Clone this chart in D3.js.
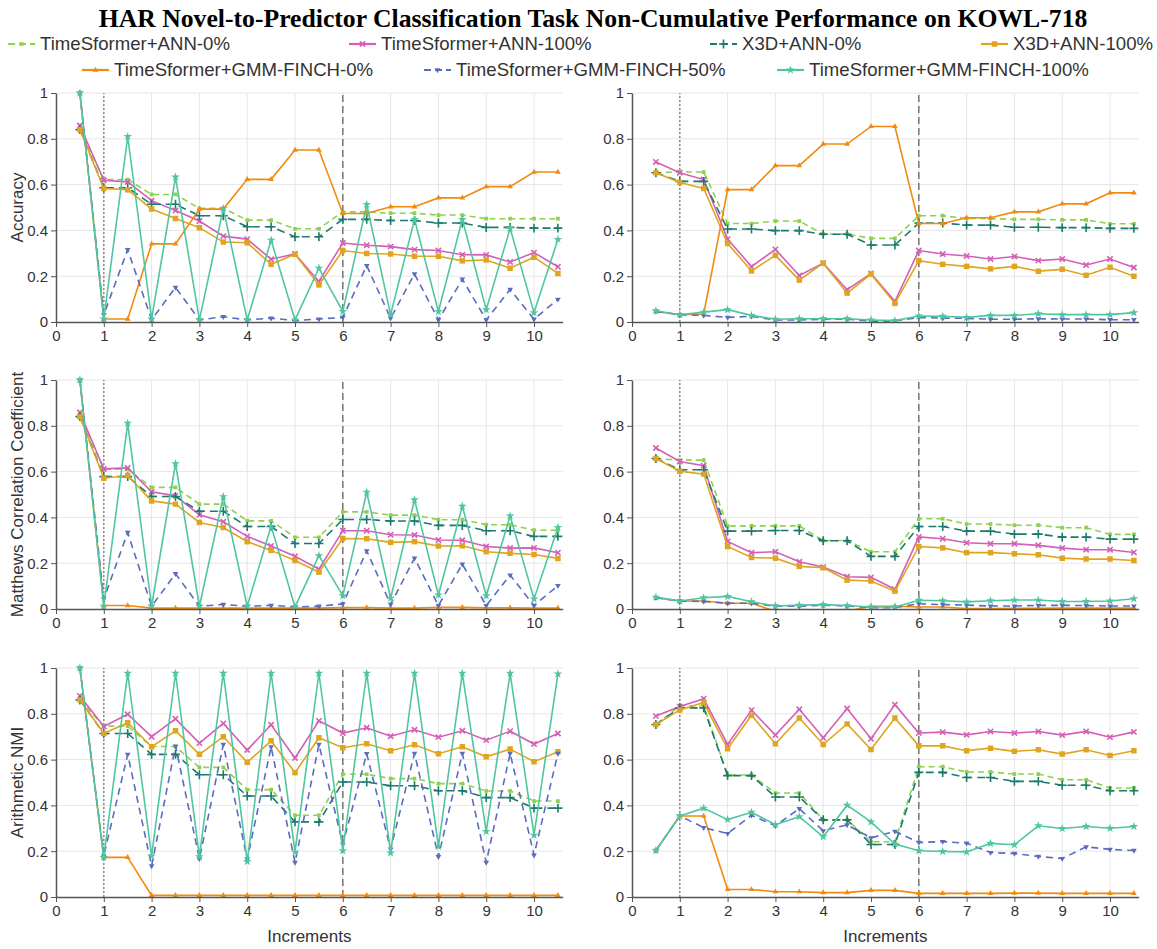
<!DOCTYPE html>
<html><head><meta charset="utf-8">
<script src="https://cdn.jsdelivr.net/npm/d3@7"></script>
<style>
body{margin:0;background:#fff;}
svg text{font-family:"Liberation Sans",Arial,sans-serif;}
</style>
</head><body>
<svg id="chart" width="1157" height="949"></svg>
<script>
// ---------------- DATA ----------------
const increments = [0.5,1,1.5,2,2.5,3,3.5,4,4.5,5,5.5,6,6.5,7,7.5,8,8.5,9,9.5,10,10.5];
const xTickValues = [0,1,2,3,4,5,6,7,8,9,10];
const yTickValues = [0,0.2,0.4,0.6,0.8,1];
const seriesNames = ["TimeSformer+ANN-0%","TimeSformer+ANN-100%","X3D+ANN-0%","X3D+ANN-100%",
  "TimeSformer+GMM-FINCH-0%","TimeSformer+GMM-FINCH-50%","TimeSformer+GMM-FINCH-100%"];
const metricNames = ["Accuracy","Matthews Correlation Coefficient","Arithmetic NMI"];
const markerLines = [1, 6]; // dotted at 1, dashed at 6

// Accuracy, left column
const accL_tsAnn0   = [0.845,0.622,0.622,0.557,0.557,0.496,0.496,0.445,0.445,0.407,0.407,0.481,0.481,0.475,0.475,0.467,0.467,0.451,0.451,0.451,0.451];
const accL_tsAnn100 = [0.858,0.619,0.612,0.530,0.487,0.441,0.375,0.362,0.274,0.297,0.177,0.345,0.335,0.329,0.316,0.312,0.294,0.293,0.262,0.303,0.241];
const accL_x3dAnn0  = [0.840,0.586,0.586,0.514,0.514,0.464,0.464,0.416,0.416,0.372,0.372,0.448,0.448,0.443,0.443,0.432,0.432,0.413,0.413,0.410,0.410];
const accL_x3dAnn100= [0.840,0.583,0.578,0.493,0.452,0.412,0.349,0.346,0.252,0.296,0.162,0.312,0.299,0.297,0.287,0.287,0.267,0.271,0.235,0.283,0.212];
const accL_gmm0     = [1.000,0.013,0.013,0.341,0.341,0.493,0.493,0.623,0.623,0.751,0.751,0.474,0.474,0.503,0.503,0.542,0.542,0.591,0.591,0.655,0.655];
const accL_gmm50    = [1.000,0.032,0.316,0.010,0.151,0.009,0.023,0.009,0.017,0.006,0.013,0.020,0.246,0.017,0.210,0.009,0.187,0.009,0.142,0.012,0.099];
const accL_gmm100   = [1.000,0.013,0.810,0.013,0.633,0.009,0.496,0.009,0.357,0.009,0.235,0.046,0.513,0.032,0.448,0.046,0.448,0.054,0.409,0.041,0.361];

// Accuracy, right column
const accR_tsAnn0   = [0.652,0.655,0.655,0.430,0.430,0.441,0.441,0.384,0.384,0.365,0.365,0.464,0.464,0.452,0.452,0.448,0.448,0.446,0.446,0.429,0.429];
const accR_tsAnn100 = [0.699,0.652,0.622,0.362,0.242,0.317,0.203,0.257,0.141,0.212,0.090,0.312,0.297,0.288,0.275,0.286,0.268,0.275,0.249,0.275,0.238];
const accR_x3dAnn0  = [0.652,0.614,0.614,0.406,0.406,0.399,0.399,0.383,0.383,0.336,0.336,0.432,0.432,0.423,0.423,0.414,0.414,0.412,0.412,0.409,0.409];
const accR_x3dAnn100= [0.652,0.609,0.583,0.343,0.223,0.291,0.183,0.257,0.126,0.209,0.081,0.268,0.252,0.243,0.232,0.243,0.222,0.230,0.204,0.239,0.200];
const accR_gmm0     = [0.046,0.032,0.035,0.578,0.578,0.683,0.683,0.777,0.777,0.854,0.854,0.430,0.430,0.455,0.455,0.481,0.481,0.516,0.516,0.564,0.564];
const accR_gmm50    = [0.046,0.032,0.029,0.020,0.025,0.009,0.009,0.012,0.012,0.004,0.004,0.020,0.017,0.016,0.012,0.012,0.014,0.013,0.013,0.010,0.010];
const accR_gmm100   = [0.049,0.032,0.043,0.054,0.029,0.012,0.014,0.014,0.014,0.009,0.006,0.026,0.025,0.020,0.029,0.029,0.036,0.032,0.032,0.032,0.041];

// MCC, left column
const mccL_tsAnn0   = [0.845,0.610,0.610,0.531,0.531,0.458,0.458,0.385,0.385,0.313,0.313,0.424,0.424,0.410,0.410,0.390,0.390,0.368,0.368,0.344,0.344];
const mccL_tsAnn100 = [0.858,0.612,0.616,0.512,0.494,0.411,0.381,0.317,0.275,0.230,0.174,0.342,0.342,0.324,0.323,0.301,0.300,0.273,0.266,0.267,0.246];
const mccL_x3dAnn0  = [0.840,0.578,0.578,0.491,0.491,0.427,0.427,0.360,0.360,0.286,0.286,0.391,0.391,0.384,0.384,0.365,0.365,0.342,0.342,0.317,0.317];
const mccL_x3dAnn100= [0.840,0.571,0.583,0.472,0.458,0.378,0.356,0.294,0.256,0.212,0.161,0.308,0.307,0.291,0.294,0.275,0.276,0.250,0.243,0.238,0.221];
const mccL_gmm0     = [1.000,0.015,0.015,0.004,0.004,0.004,0.004,0.004,0.004,0.004,0.004,0.006,0.006,0.004,0.004,0.007,0.007,0.005,0.005,0.004,0.004];
const mccL_gmm50    = [1.000,0.044,0.334,0.012,0.154,0.012,0.020,0.012,0.016,0.009,0.012,0.022,0.254,0.020,0.222,0.015,0.196,0.015,0.148,0.015,0.102];
const mccL_gmm100   = [1.000,0.012,0.811,0.012,0.635,0.012,0.491,0.012,0.362,0.009,0.233,0.058,0.510,0.047,0.477,0.061,0.449,0.058,0.406,0.044,0.356];

// MCC, right column
const mccR_tsAnn0   = [0.657,0.650,0.650,0.363,0.363,0.363,0.363,0.299,0.299,0.250,0.250,0.394,0.394,0.371,0.371,0.366,0.366,0.355,0.355,0.326,0.326];
const mccR_tsAnn100 = [0.703,0.644,0.626,0.295,0.246,0.250,0.206,0.183,0.141,0.138,0.086,0.315,0.307,0.289,0.285,0.285,0.278,0.266,0.259,0.259,0.247];
const mccR_x3dAnn0  = [0.657,0.608,0.608,0.340,0.340,0.343,0.343,0.298,0.298,0.230,0.230,0.360,0.360,0.340,0.340,0.327,0.327,0.314,0.314,0.305,0.305];
const mccR_x3dAnn100= [0.657,0.602,0.589,0.273,0.225,0.222,0.186,0.180,0.126,0.122,0.078,0.273,0.267,0.246,0.246,0.241,0.237,0.222,0.218,0.218,0.212];
const mccR_gmm0     = [0.049,0.035,0.035,0.025,0.025,-0.010,-0.010,-0.010,-0.010,0.012,0.012,0.009,0.009,0.002,0.002,0.003,0.003,0.004,0.004,0.004,0.004];
const mccR_gmm50    = [0.049,0.035,0.033,0.025,0.025,0.012,0.012,0.017,0.013,0.006,0.006,0.023,0.019,0.017,0.013,0.013,0.016,0.016,0.015,0.013,0.013];
const mccR_gmm100   = [0.052,0.035,0.049,0.055,0.032,0.013,0.017,0.019,0.015,0.009,0.009,0.038,0.036,0.031,0.036,0.039,0.039,0.033,0.033,0.035,0.045];

// NMI, left column
const nmiL_tsAnn0   = [0.860,0.746,0.746,0.657,0.657,0.566,0.566,0.469,0.469,0.357,0.357,0.536,0.536,0.517,0.517,0.495,0.495,0.463,0.463,0.419,0.419];
const nmiL_tsAnn100 = [0.878,0.745,0.798,0.700,0.778,0.672,0.758,0.642,0.752,0.607,0.769,0.716,0.739,0.702,0.730,0.698,0.726,0.685,0.724,0.668,0.714];
const nmiL_x3dAnn0  = [0.860,0.714,0.714,0.623,0.623,0.534,0.534,0.441,0.441,0.328,0.328,0.502,0.502,0.486,0.486,0.464,0.464,0.434,0.434,0.388,0.388];
const nmiL_x3dAnn100= [0.861,0.714,0.761,0.656,0.726,0.623,0.700,0.588,0.682,0.543,0.695,0.652,0.669,0.639,0.665,0.626,0.656,0.612,0.646,0.591,0.634];
const nmiL_gmm0     = [1.000,0.173,0.173,0.007,0.007,0.007,0.007,0.007,0.007,0.007,0.007,0.007,0.007,0.007,0.007,0.007,0.007,0.007,0.007,0.007,0.007];
const nmiL_gmm50    = [1.000,0.180,0.623,0.136,0.659,0.167,0.666,0.165,0.655,0.151,0.666,0.230,0.626,0.209,0.627,0.176,0.627,0.151,0.627,0.183,0.627];
const nmiL_gmm100   = [1.000,0.173,0.977,0.179,0.977,0.176,0.977,0.155,0.977,0.197,0.977,0.202,0.977,0.192,0.977,0.221,0.977,0.286,0.977,0.270,0.974];

// NMI, right column
const nmiR_tsAnn0   = [0.753,0.835,0.835,0.533,0.533,0.454,0.454,0.337,0.337,0.241,0.241,0.569,0.569,0.546,0.546,0.537,0.537,0.512,0.512,0.476,0.476];
const nmiR_tsAnn100 = [0.790,0.832,0.866,0.666,0.816,0.707,0.820,0.695,0.823,0.691,0.840,0.716,0.720,0.708,0.723,0.716,0.723,0.707,0.723,0.698,0.721];
const nmiR_x3dAnn0  = [0.753,0.826,0.826,0.530,0.530,0.437,0.437,0.337,0.337,0.229,0.229,0.544,0.544,0.522,0.522,0.505,0.505,0.488,0.488,0.464,0.464];
const nmiR_x3dAnn100= [0.753,0.817,0.849,0.647,0.794,0.669,0.782,0.666,0.756,0.644,0.782,0.660,0.660,0.639,0.650,0.636,0.643,0.624,0.643,0.618,0.639];
const nmiR_gmm0     = [0.203,0.354,0.354,0.033,0.033,0.023,0.023,0.019,0.019,0.029,0.029,0.016,0.016,0.016,0.016,0.017,0.017,0.016,0.016,0.016,0.016];
const nmiR_gmm50    = [0.203,0.354,0.303,0.277,0.357,0.311,0.386,0.289,0.315,0.258,0.287,0.238,0.242,0.235,0.194,0.190,0.177,0.168,0.219,0.208,0.203];
const nmiR_gmm100   = [0.203,0.354,0.388,0.338,0.370,0.316,0.351,0.263,0.401,0.328,0.231,0.202,0.199,0.197,0.234,0.228,0.311,0.299,0.308,0.300,0.308];

// ---------------- STYLE ----------------
const seriesColors = ["#8fd14f","#d35fb7","#1b7a6b","#dfa520","#f28a0f","#5b6bbf","#4fc6a0"];
const seriesDash   = ["6,4", null, "8,5", null, null, "7,5", null];
const seriesSym = [
  {type:d3.symbolSquare, size:14, fill:true},
  {type:d3.symbolTimes, size:20, fill:false},
  {type:d3.symbolPlus, size:28, fill:false},
  {type:d3.symbolSquare, size:30, fill:true},
  {type:d3.symbolTriangle, size:14, fill:true},
  {type:d3.symbolTriangle, size:14, fill:true, rot:180},
  {type:d3.symbolStar, size:24, fill:true}
];

const panels = [
  {row:0,col:0,data:[accL_tsAnn0,accL_tsAnn100,accL_x3dAnn0,accL_x3dAnn100,accL_gmm0,accL_gmm50,accL_gmm100]},
  {row:0,col:1,data:[accR_tsAnn0,accR_tsAnn100,accR_x3dAnn0,accR_x3dAnn100,accR_gmm0,accR_gmm50,accR_gmm100]},
  {row:1,col:0,data:[mccL_tsAnn0,mccL_tsAnn100,mccL_x3dAnn0,mccL_x3dAnn100,mccL_gmm0,mccL_gmm50,mccL_gmm100]},
  {row:1,col:1,data:[mccR_tsAnn0,mccR_tsAnn100,mccR_x3dAnn0,mccR_x3dAnn100,mccR_gmm0,mccR_gmm50,mccR_gmm100]},
  {row:2,col:0,data:[nmiL_tsAnn0,nmiL_tsAnn100,nmiL_x3dAnn0,nmiL_x3dAnn100,nmiL_gmm0,nmiL_gmm50,nmiL_gmm100]},
  {row:2,col:1,data:[nmiR_tsAnn0,nmiR_tsAnn100,nmiR_x3dAnn0,nmiR_x3dAnn100,nmiR_gmm0,nmiR_gmm50,nmiR_gmm100]}
];

const colX = [[56,562.7],[632,1138.7]];
const rowY = [[322,93],[609,380],[897,668]];

const svg = d3.select("#chart");
svg.append("rect").attr("width",1157).attr("height",949).attr("fill","#fff");

// Title
svg.append("text").attr("x",593).attr("y",27).attr("text-anchor","middle")
  .style("font-family","'Liberation Serif','Times New Roman',serif").style("font-weight","bold")
  .style("font-size","25.7px").attr("fill","#000")
  .text("HAR Novel-to-Predictor Classification Task Non-Cumulative Performance on KOWL-718");

// Legend
const legendPos = [[8,44],[349,44],[710,44],[981,44],[82,70],[424,70],[777,70]];
function drawSymbol(g, i, cx, cy){
  const s = seriesSym[i];
  const p = g.append("path").attr("d", d3.symbol(s.type, s.size)())
    .attr("transform", `translate(${cx},${cy})` + (s.rot?` rotate(${s.rot})`:""));
  if (s.fill) p.attr("fill", seriesColors[i]).attr("stroke","none");
  else p.attr("fill","none").attr("stroke", seriesColors[i]).attr("stroke-width",1.6);
}
seriesNames.forEach((name,i)=>{
  const [lx,ly] = legendPos[i];
  const g = svg.append("g");
  g.append("line").attr("x1",lx).attr("x2",lx+27).attr("y1",ly).attr("y2",ly)
    .attr("stroke",seriesColors[i]).attr("stroke-width",2.2)
    .attr("stroke-dasharray", seriesDash[i] ? "7,4" : null);
  drawSymbol(g,i,lx+13.5,ly);
  g.append("text").attr("x",lx+32).attr("y",ly+6).style("font-size","18.6px").attr("fill","#333").text(name);
});

// Panels
panels.forEach((pn,pi)=>{
  const x = d3.scaleLinear().domain([0,10.6]).range(colX[pn.col]);
  const y = d3.scaleLinear().domain([0,1]).range(rowY[pn.row]);
  const g = svg.append("g");
  // grid
  g.selectAll(".vg").data(xTickValues.filter(d=>d>0)).enter().append("line")
    .attr("x1",d=>x(d)).attr("x2",d=>x(d)).attr("y1",y(0)).attr("y2",y(1))
    .attr("stroke","#e6e6e6").attr("stroke-width",1);
  g.selectAll(".hg").data(yTickValues.filter(d=>d>0)).enter().append("line")
    .attr("x1",x(0)).attr("x2",x(10.6)).attr("y1",d=>y(d)).attr("y2",d=>y(d))
    .attr("stroke","#e6e6e6").attr("stroke-width",1);
  // reference lines
  g.append("line").attr("x1",x(markerLines[0])).attr("x2",x(markerLines[0])).attr("y1",y(0)).attr("y2",y(1))
    .attr("stroke","#8a8a8a").attr("stroke-width",1.5).attr("stroke-dasharray","2,2");
  g.append("line").attr("x1",x(markerLines[1])).attr("x2",x(markerLines[1])).attr("y1",y(0)).attr("y2",y(1))
    .attr("stroke","#777").attr("stroke-width",1.5).attr("stroke-dasharray","7,4");

  // clip
  const cid = "clip"+pi;
  svg.append("clipPath").attr("id",cid).append("rect")
    .attr("x",x(0)).attr("y",y(1)-6).attr("width",x(10.6)-x(0)+4).attr("height",y(0)-y(1)+6);
  const plot = g.append("g").attr("clip-path",`url(#${cid})`);

  const line = d3.line().x((d,j)=>x(increments[j])).y(d=>y(d));
  pn.data.forEach((vals,i)=>{
    plot.append("path").attr("d",line(vals)).attr("fill","none")
      .attr("stroke",seriesColors[i]).attr("stroke-width",1.6)
      .attr("stroke-dasharray",seriesDash[i]);
    vals.forEach((v,j)=>{ drawSymbol(plot,i,x(increments[j]),y(v)); });
  });

  // axes
  const ax = g.append("g").attr("transform",`translate(0,${y(0)})`)
    .call(d3.axisBottom(x).tickValues(xTickValues).tickFormat(d3.format("d")).tickSize(5).tickSizeOuter(0));
  const ay = g.append("g").attr("transform",`translate(${x(0)},0)`)
    .call(d3.axisLeft(y).tickValues(yTickValues).tickFormat(d3.format("~g")).tickSize(5).tickSizeOuter(0));
  [ax,ay].forEach(a=>{
    a.select(".domain").attr("stroke","#555").attr("stroke-width",1.5);
    a.selectAll(".tick line").attr("stroke","#555");
    a.selectAll("text").style("font-size","15px").attr("fill","#333")
      .style("font-family","'Liberation Sans',Arial,sans-serif");
  });

  if (pn.col===0){
    svg.append("text").attr("transform",`translate(23,${(y(0)+y(1))/2}) rotate(-90)`)
      .attr("text-anchor","middle").style("font-size","17px").attr("fill","#333")
      .text(metricNames[pn.row]);
  }
  if (pn.row===2){
    svg.append("text").attr("x",(x(0)+x(10.6))/2).attr("y",942)
      .attr("text-anchor","middle").style("font-size","17px").attr("fill","#333").text("Increments");
  }
});
</script>
</body></html>
